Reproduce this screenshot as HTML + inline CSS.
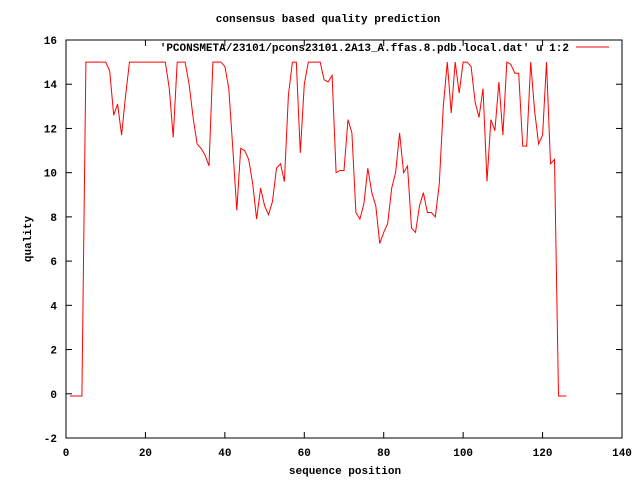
<!DOCTYPE html>
<html><head><meta charset="utf-8"><style>
body{margin:0;background:#fff}
svg text{font-family:"Liberation Mono",monospace;font-size:11px;font-weight:bold;fill:#000}
</style></head><body>
<svg width="640" height="480" viewBox="0 0 640 480">
<g id="axes"></g>
<text x="328" y="22" text-anchor="middle">consensus based quality prediction</text>
<text x="345" y="474" text-anchor="middle">sequence position</text>
<text transform="translate(31,239) rotate(-90)" text-anchor="middle">quality</text>
<g>
<text x="569" y="51" text-anchor="end">'PCONSMETA/23101/pcons23101.2A13_A.ffas.8.pdb.local.dat' u 1:2</text>
<line x1="576" y1="47" x2="609" y2="47" stroke="#f00" stroke-width="1"/>
</g>
<polyline id="series" fill="none" stroke="#f00" stroke-width="1"/>
</svg>
<script>
const positions=[1,2,3,4,5,6,7,8,9,10,11,12,13,14,15,16,17,18,19,20,21,22,23,24,25,26,27,28,29,30,31,32,33,34,35,36,37,38,39,40,41,42,43,44,45,46,47,48,49,50,51,52,53,54,55,56,57,58,59,60,61,62,63,64,65,66,67,68,69,70,71,72,73,74,75,76,77,78,79,80,81,82,83,84,85,86,87,88,89,90,91,92,93,94,95,96,97,98,99,100,101,102,103,104,105,106,107,108,109,110,111,112,113,114,115,116,117,118,119,120,121,122,123,124,125,126];
const quality=[-0.1,-0.1,-0.1,-0.1,15,15,15,15,15,15,14.6,12.6,13.1,11.7,13.5,15,15,15,15,15,15,15,15,15,15,13.8,11.6,15,15,15,14.0,12.5,11.3,11.1,10.8,10.3,15,15,15,14.8,13.8,11.1,8.3,11.1,11.0,10.6,9.5,7.9,9.3,8.5,8.1,8.7,10.2,10.4,9.6,13.5,15,15,10.9,14.0,15,15,15,15,14.2,14.1,14.4,10.0,10.1,10.1,12.4,11.8,8.2,7.9,8.6,10.2,9.1,8.5,6.8,7.3,7.7,9.3,10.0,11.8,10.0,10.3,7.5,7.3,8.5,9.1,8.2,8.2,8.0,9.5,13.0,15,12.7,15,13.6,15,15,14.8,13.2,12.5,13.8,9.6,12.4,11.9,14.1,11.7,15,14.9,14.5,14.5,11.2,11.2,15,12.8,11.3,11.7,15,10.4,10.6,-0.1,-0.1,-0.1];
const xTicks=[0,20,40,60,80,100,120,140];
const yTicks=[-2,0,2,4,6,8,10,12,14,16];
const X0=66,X1=622,Y0=438,Y1=40,xmin=0,xmax=140,ymin=-2,ymax=16;
const sx=v=>X0+(v-xmin)/(xmax-xmin)*(X1-X0);
const sy=v=>Y0-(v-ymin)/(ymax-ymin)*(Y0-Y1);
const NS="http://www.w3.org/2000/svg";
const g=document.getElementById('axes');
function mk(t,a){const e=document.createElementNS(NS,t);for(const k in a)e.setAttribute(k,a[k]);g.appendChild(e);return e;}
const fr=mk('rect',{x:X0,y:Y1,width:X1-X0,height:Y0-Y1,fill:'none',stroke:'#000','stroke-width':1});


xTicks.forEach(v=>{
 const x=sx(v);
 const t1=mk('line',{x1:x,y1:Y0,x2:x,y2:Y0-6,stroke:'#000'});
 
 
 const t2=mk('line',{x1:x,y1:Y1,x2:x,y2:Y1+6,stroke:'#000'});
 
 
 const l=mk('text',{x:x,y:Y0+18,'text-anchor':'middle'});l.textContent=v;
 
 
});
yTicks.forEach(v=>{
 const y=sy(v);
 const t1=mk('line',{x1:X0,y1:y,x2:X0+6,y2:y,stroke:'#000'});
 
 
 const t2=mk('line',{x1:X1,y1:y,x2:X1-6,y2:y,stroke:'#000'});
 
 
 const l=mk('text',{x:X0-9,y:y+4,'text-anchor':'end'});l.textContent=v;
 
 
});
document.getElementById('series').setAttribute('points',positions.map((p,i)=>sx(p).toFixed(1)+','+sy(quality[i]).toFixed(1)).join(' '));
</script>
</body></html>
